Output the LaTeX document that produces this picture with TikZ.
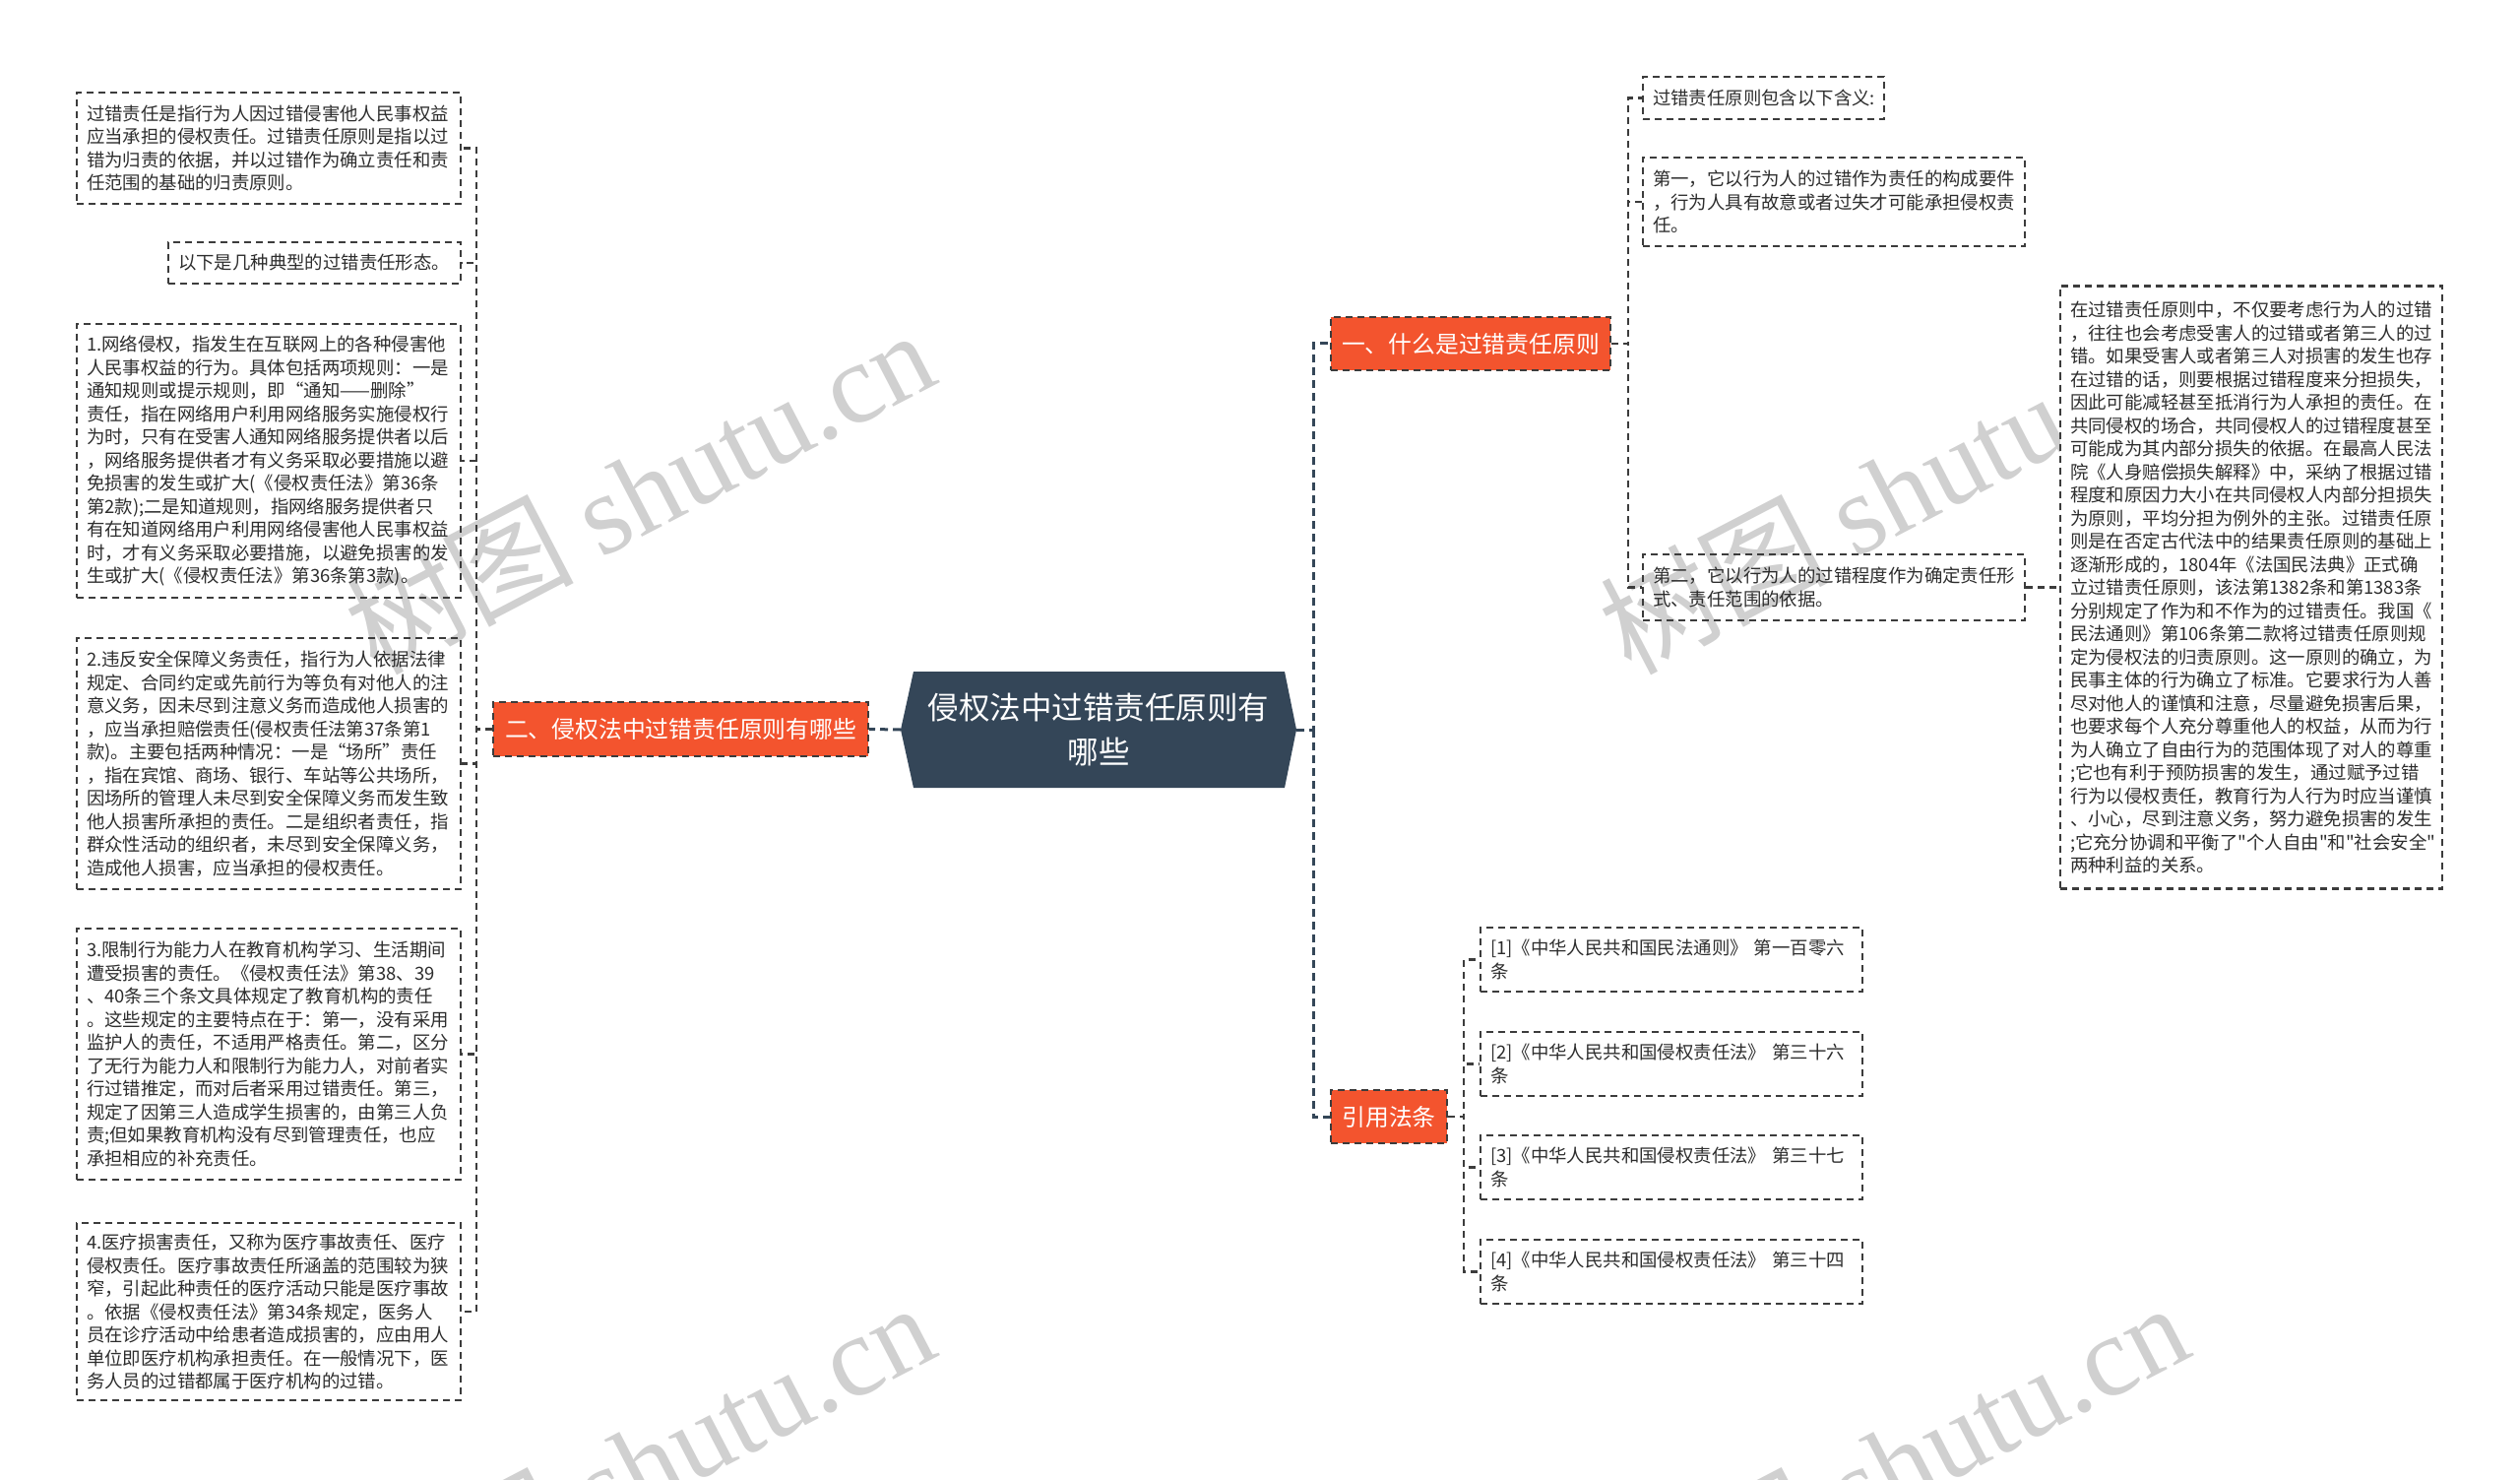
\documentclass[tikz,border=0pt]{standalone}
\usepackage{fontspec}
\newfontfamily\cjk{Noto Sans CJK SC}
\newfontfamily\wmserif{Liberation Serif}
\definecolor{orangeN}{RGB}{243,84,46}
\definecolor{darkN}{RGB}{52,70,88}
\definecolor{borderC}{RGB}{60,60,60}
\definecolor{textC}{RGB}{45,45,45}
\definecolor{wmC}{RGB}{208,208,208}
\begin{document}
\begin{tikzpicture}[x=0.5pt,y=-0.5pt,
  dsh/.style={dash pattern=on 3.5pt off 2.5pt},
  leaf/.style={draw=borderC, line width=1.05pt, dsh, text=textC, align=left, inner xsep=5pt, inner ysep=0pt, font=\cjk\fontsize{9.2pt}{11.75pt}\selectfont},
  branch/.style={draw=borderC, fill=orangeN, line width=1.05pt, dsh, text=white, align=center, inner sep=0pt, font=\cjk\fontsize{11.9pt}{14pt}\selectfont},
  mainconn/.style={draw=darkN, line width=1.5pt, dash pattern=on 4pt off 2.5pt},
  subconn/.style={draw=borderC, line width=1.05pt, dsh},
  wm/.style={text=wmC, rotate=27.5, inner sep=0pt, font=\fontsize{58pt}{58pt}\selectfont}
]
\useasboundingbox (0,0) rectangle (2560,1503);
\fill[white] (0,0) rectangle (2560,1503);

% watermarks
\node[wm] (w1) at (649,498) {\cjk 树图\ \wmserif shutu.cn};
\node[wm] (w2) at (1923,498) {\cjk 树图\ \wmserif shutu.cn};
\node[wm] (w3) at (649,1486) {\cjk 树图\ \wmserif shutu.cn};
\node[wm] (w4) at (1923,1486) {\cjk 树图\ \wmserif shutu.cn};

% center node
\fill[darkN] (915,741) -- (928,682) -- (1305,682) -- (1317,741) -- (1305,800) -- (928,800) -- cycle;
\coordinate (cL) at (915,741);
\coordinate (cR) at (1317,741);
\node[text=white, align=center, font=\cjk\fontsize{15.75pt}{22.5pt}\selectfont] (center) at (1116,741) {侵权法中过错责任原则有\\哪些};

% branches
\node[branch, minimum width=190.5pt, minimum height=27.5pt] (b2) at (691.5,740.5) {二、侵权法中过错责任原则有哪些};
\node[branch, minimum width=142pt, minimum height=27pt] (b1) at (1494,349) {一、什么是过错责任原则};
\node[branch, minimum width=59pt, minimum height=27pt] (bref) at (1411,1134) {引用法条};

% left leaves
\node[leaf, text width=185pt, minimum height=56.5pt] (L1) at (273,150.5) {过错责任是指行为人因过错侵害他人民事权益\\应当承担的侵权责任。过错责任原则是指以过\\错为归责的依据，并以过错作为确立责任和责\\任范围的基础的归责原则。};
\node[leaf, text width=138.5pt, minimum height=21pt] (L2) at (319.5,267) {以下是几种典型的过错责任形态。};
\node[leaf, text width=185pt, minimum height=139pt] (L3) at (273,468) {1.网络侵权，指发生在互联网上的各种侵害他\\人民事权益的行为。具体包括两项规则：一是\\通知规则或提示规则，即“通知——删除”\\责任，指在网络用户利用网络服务实施侵权行\\为时，只有在受害人通知网络服务提供者以后\\，网络服务提供者才有义务采取必要措施以避\\免损害的发生或扩大(《侵权责任法》第36条\\第2款);二是知道规则，指网络服务提供者只\\有在知道网络用户利用网络侵害他人民事权益\\时，才有义务采取必要措施，以避免损害的发\\生或扩大(《侵权责任法》第36条第3款)。};
\node[leaf, text width=185pt, minimum height=127.5pt] (L4) at (273,775.5) {2.违反安全保障义务责任，指行为人依据法律\\规定、合同约定或先前行为等负有对他人的注\\意义务，因未尽到注意义务而造成他人损害的\\，应当承担赔偿责任(侵权责任法第37条第1\\款)。主要包括两种情况：一是“场所”责任\\，指在宾馆、商场、银行、车站等公共场所，\\因场所的管理人未尽到安全保障义务而发生致\\他人损害所承担的责任。二是组织者责任，指\\群众性活动的组织者，未尽到安全保障义务，\\造成他人损害，应当承担的侵权责任。};
\node[leaf, text width=185pt, minimum height=127.5pt] (L5) at (273,1070.5) {3.限制行为能力人在教育机构学习、生活期间\\遭受损害的责任。《侵权责任法》第38、39\\、40条三个条文具体规定了教育机构的责任\\。这些规定的主要特点在于：第一，没有采用\\监护人的责任，不适用严格责任。第二，区分\\了无行为能力人和限制行为能力人，对前者实\\行过错推定，而对后者采用过错责任。第三，\\规定了因第三人造成学生损害的，由第三人负\\责;但如果教育机构没有尽到管理责任，也应\\承担相应的补充责任。};
\node[leaf, text width=185pt, minimum height=90pt] (L6) at (273,1332) {4.医疗损害责任，又称为医疗事故责任、医疗\\侵权责任。医疗事故责任所涵盖的范围较为狭\\窄，引起此种责任的医疗活动只能是医疗事故\\。依据《侵权责任法》第34条规定，医务人\\员在诊疗活动中给患者造成损害的，应由用人\\单位即医疗机构承担责任。在一般情况下，医\\务人员的过错都属于医疗机构的过错。};

% right leaves under b1
\node[leaf, text width=112.5pt, minimum height=21.5pt] (R1) at (1791.5,99.5) {过错责任原则包含以下含义:};
\node[leaf, text width=184pt, minimum height=45pt] (R2) at (1863,205) {第一，它以行为人的过错作为责任的构成要件\\，行为人具有故意或者过失才可能承担侵权责\\任。};
\node[leaf, text width=184pt, minimum height=33.5pt] (R3) at (1863,596.5) {第二，它以行为人的过错程度作为确定责任形\\式、责任范围的依据。};
\node[leaf, fill=white, text width=184pt, minimum height=306pt] (Long) at (2287,596.5) {在过错责任原则中，不仅要考虑行为人的过错\\，往往也会考虑受害人的过错或者第三人的过\\错。如果受害人或者第三人对损害的发生也存\\在过错的话，则要根据过错程度来分担损失，\\因此可能减轻甚至抵消行为人承担的责任。在\\共同侵权的场合，共同侵权人的过错程度甚至\\可能成为其内部分损失的依据。在最高人民法\\院《人身赔偿损失解释》中，采纳了根据过错\\程度和原因力大小在共同侵权人内部分担损失\\为原则，平均分担为例外的主张。过错责任原\\则是在否定古代法中的结果责任原则的基础上\\逐渐形成的，1804年《法国民法典》正式确\\立过错责任原则，该法第1382条和第1383条\\分别规定了作为和不作为的过错责任。我国《\\民法通则》第106条第二款将过错责任原则规\\定为侵权法的归责原则。这一原则的确立，为\\民事主体的行为确立了标准。它要求行为人善\\尽对他人的谨慎和注意，尽量避免损害后果，\\也要求每个人充分尊重他人的权益，从而为行\\为人确立了自由行为的范围体现了对人的尊重\\;它也有利于预防损害的发生，通过赋予过错\\行为以侵权责任，教育行为人行为时应当谨慎\\、小心，尽到注意义务，努力避免损害的发生\\;它充分协调和平衡了"个人自由"和"社会安全"\\两种利益的关系。};

% citations
\node[leaf, text width=184pt, minimum height=32.5pt] (C1) at (1698,974.5) {[1]《中华人民共和国民法通则》 第一百零六\\条};
\node[leaf, text width=184pt, minimum height=32.5pt] (C2) at (1698,1080.5) {[2]《中华人民共和国侵权责任法》 第三十六\\条};
\node[leaf, text width=184pt, minimum height=32.5pt] (C3) at (1698,1185.5) {[3]《中华人民共和国侵权责任法》 第三十七\\条};
\node[leaf, text width=184pt, minimum height=32.5pt] (C4) at (1698,1291.5) {[4]《中华人民共和国侵权责任法》 第三十四\\条};

% connectors
\draw[mainconn] (cL) -- (b2.east);
\coordinate (busR) at (1334,741);
\draw[mainconn] (cR) -- (busR) |- (b1.west);
\draw[mainconn] (busR) |- (bref.west);

\coordinate (busL) at (484,740.5);
\foreach \n in {L1,L2,L3,L4,L5,L6} {
  \draw[subconn] (b2.west) -- (busL) |- (\n.east);
}
\coordinate (bus1) at (1654,349);
\foreach \n in {R1,R2,R3} {
  \draw[subconn] (b1.east) -- (bus1) |- (\n.west);
}
\draw[subconn] (R3.east) -- (Long.west);
\coordinate (bus3) at (1487,1134);
\foreach \n in {C1,C2,C3,C4} {
  \draw[subconn] (bref.east) -- (bus3) |- (\n.west);
}
\end{tikzpicture}
\end{document}
